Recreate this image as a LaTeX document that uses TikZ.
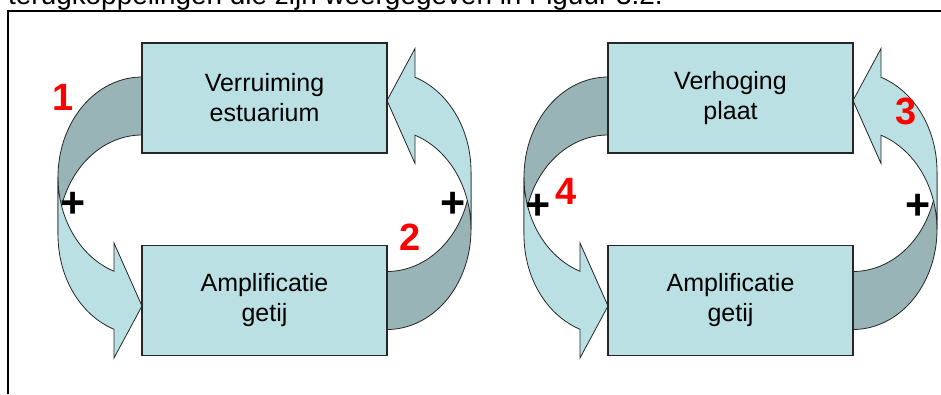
\documentclass[tikz,border=0pt]{standalone}
\usepackage{fontspec}
\setmainfont{Liberation Sans}
\usetikzlibrary{backgrounds}
\definecolor{boxfill}{HTML}{BBE0E3}
\definecolor{bandback}{HTML}{98B4B7}
\tikzset{band/.style={draw=black!85, line width=0.8pt}}
% twisted band: back part first, front part with the head on top
\newcommand{\loopband}{%
  \path[band, fill=bandback]
    plot[variable=\t, domain=270:180, samples=40] ({84*cos(\t)},{134+100*sin(\t)})
    -- plot[variable=\t, domain=180:270, samples=40] ({84*cos(\t)},{192+100*sin(\t)}) -- cycle;
  \path[band, fill=boxfill]
    plot[variable=\t, domain=180:109.47, samples=40] ({84*cos(\t)},{134+100*sin(\t)})
    -- (-28,200) -- (0,263) -- (-28,315)
    -- plot[variable=\t, domain=109.47:180, samples=40] ({84*cos(\t)},{192+100*sin(\t)}) -- cycle;
}
\begin{document}
\begin{tikzpicture}[x=1pt, y=-1pt]
              \useasboundingbox (0,0) rectangle (941,394);
              \node[anchor=base west, inner sep=0pt, font=\fontsize{27.9}{30}\selectfont] (caption) at (8,4) {terugkoppelingen die zijn weergegeven in Figuur 3.2.};
              \draw[line width=2pt] (8,394) -- (8,11) -- (941,11);
              \begin{scope}[every node/.style={draw=black!85, line width=1.3pt, fill=boxfill, outer sep=0pt,
                  minimum width=245pt, minimum height=110pt, align=center, font=\fontsize{25}{30}\selectfont}]
                \node (verruiming) at (264.5,98)    {Verruiming\\estuarium};
                \node (ampla)      at (264.5,300.5) {Amplificatie\\getij};
                \node (verhoging)  at (730.5,98)    {Verhoging\\plaat};
                \node (amplb)      at (730.5,300.5) {Amplificatie\\getij};
              \end{scope}
              \begin{scope}[on background layer, shift={(verruiming.north west)}]
                \loopband
              \end{scope}
              \begin{scope}[on background layer, shift={(ampla.south east)}, yshift=-8pt, rotate=180]
                \loopband
              \end{scope}
              \begin{scope}[on background layer, shift={(verhoging.north west)}]
                \loopband
              \end{scope}
              \begin{scope}[on background layer, shift={(amplb.south east)}, yshift=-8pt, rotate=180]
                \loopband
              \end{scope}
              \begin{scope}[every node/.style={text=red, inner sep=0pt, font=\fontsize{38}{40}\selectfont\bfseries}]
                \node (een)  at (63,97)   {1};
                \node (twee) at (410,237) {2};
                \node (drie) at (906,111) {3};
                \node (vier) at (566,191) {4};
              \end{scope}
              \begin{scope}[every node/.style={inner sep=0pt, font=\fontsize{43}{45}\selectfont\bfseries}]
                \node (plusa) at (73,205)  {+};
                \node (plusb) at (453,205) {+};
                \node (plusc) at (538,207) {+};
                \node (plusd) at (918,207) {+};
              \end{scope}
            \end{tikzpicture}
\end{document}
